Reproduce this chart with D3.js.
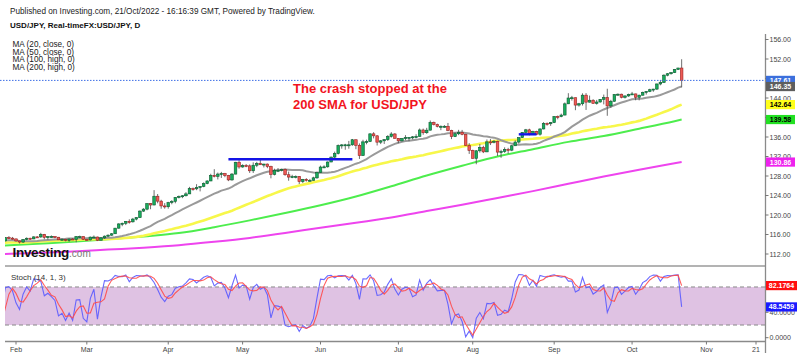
<!DOCTYPE html>
<html><head><meta charset="utf-8">
<script src="https://cdn.jsdelivr.net/npm/d3@7"></script>
<style>body{margin:0;background:#fff;}svg{display:block;font-family:"Liberation Sans",Arial,sans-serif;}</style>
</head><body><svg id="c" width="800" height="357"></svg>
<script>
// ---------------- DATA ----------------
// closes before the OHLC range (Nov 15 – Dec 27, 2021), used only for the moving averages
const earlyCloses = [114.15,114.83,114.10,114.26,113.99,114.85,115.12,115.39,115.36,113.39,113.65,113.15,112.80,113.20,112.80,113.47,113.55,113.70,113.48,113.39,113.57,113.72,114.06,113.70,113.71,113.63,114.08,114.17,114.46,114.39,114.83];
// daily OHLC, weekdays from 2021-12-28 to 2022-10-21
const firstBarDate = "2021-12-28";
const firstVisibleDate = "2022-01-26";
const opens = [
114.83,114.83,114.96,115.07,115.08,115.31,116.12,116.11,115.85,115.56,115.20,115.28,114.60,114.17,114.20,114.60,114.60,114.32,114.10,113.68,113.97,
113.88,114.67,115.35,115.25,
115.10,114.68,114.45,114.98,115.23,115.09,115.51,115.50,116.03,115.42,115.56,115.57,115.44,114.91,115.00,114.75,115.07,115.00,115.56,115.57,
115.00,114.89,115.47,115.48,114.82,115.30,115.66,115.86,116.15,117.30,118.17,118.30,118.70,118.60,119.16,119.45,120.80,121.20,122.34,122.05,123.85,122.84,121.86,
121.70,122.55,122.80,123.60,123.80,123.95,124.33,125.40,125.37,125.62,125.86,126.43,126.98,128.13,127.92,128.40,128.51,128.10,127.20,128.39,130.82,
129.85,130.15,130.08,129.07,130.21,130.57,130.31,130.45,129.93,128.32,129.17,129.18,129.35,128.26,127.78,127.87,127.90,126.85,127.32,127.10,127.12,127.62,
128.70,129.84,129.88,130.87,131.88,132.62,134.27,134.38,134.40,134.40,135.44,134.30,132.20,135.00,135.08,136.65,136.24,134.94,135.22,135.45,136.12,136.62,
135.73,135.21,135.70,135.87,135.93,136.03,136.11,137.44,136.88,137.40,138.97,138.55,138.17,138.20,138.20,137.37,136.08,136.66,136.97,136.55,134.27,
133.24,131.62,133.17,133.88,132.95,135.00,134.95,135.12,132.90,133.02,133.47,133.30,134.20,134.96,135.88,136.95,137.47,136.66,137.14,136.57,137.65,138.80,138.72,
138.96,140.20,140.18,140.50,142.80,144.00,144.06,142.55,142.82,144.58,143.15,143.54,142.90,143.18,143.73,144.09,142.38,143.33,144.72,144.78,144.15,144.42,
144.74,144.84,144.15,144.57,145.17,145.35,145.70,145.83,146.88,147.19,148.68,148.98,149.20,149.868,150.15];
const highs = [
114.95,115.00,115.18,115.20,115.50,116.35,116.22,116.15,116.05,115.85,115.68,115.30,114.72,114.30,114.75,115.05,114.75,114.56,114.20,114.00,114.20,
114.72,115.48,115.67,115.50,
115.15,114.70,115.05,115.40,115.34,115.64,115.68,116.34,116.12,115.69,115.81,115.65,115.50,115.20,115.10,115.18,115.25,115.69,115.77,115.62,
115.10,115.57,115.80,115.57,115.46,115.80,116.03,116.30,117.35,118.30,118.45,118.75,119.12,119.40,119.55,120.95,121.41,122.42,122.44,125.10,124.30,123.12,122.44,
122.70,123.05,123.68,124.00,124.08,124.68,125.77,125.63,126.32,125.86,126.68,127.12,128.46,129.40,128.70,128.84,128.63,128.22,128.60,130.90,131.25,
130.40,130.45,130.37,130.80,130.90,131.35,130.50,130.55,130.11,129.50,129.64,129.50,129.55,128.90,128.25,128.12,128.00,127.40,127.55,127.40,127.85,128.89,
130.13,130.20,130.98,131.97,133.00,134.47,134.55,134.60,135.20,135.59,135.45,134.68,135.43,135.45,136.71,136.99,136.37,135.38,135.55,136.38,137.00,136.80,
135.76,135.80,136.38,136.00,136.20,136.57,137.75,137.72,137.88,139.38,139.16,138.74,138.38,138.45,138.88,137.48,136.96,137.47,137.45,136.58,134.74,
133.40,133.30,134.55,134.20,135.50,135.58,135.40,135.24,133.38,133.88,133.78,134.37,135.32,135.90,137.00,137.66,137.70,137.28,137.28,137.76,139.05,138.98,139.08,
140.25,140.40,140.80,143.08,144.99,144.43,144.08,143.00,144.96,145.00,144.50,143.75,143.61,143.79,144.70,145.90,143.62,144.78,144.94,144.88,144.55,144.89,
145.25,144.89,144.70,145.30,145.44,145.90,145.88,146.95,147.67,148.86,149.10,149.33,149.95,150.20,151.95];
const lows = [
114.60,114.67,114.80,114.96,115.02,115.28,115.73,115.58,115.42,115.05,115.06,114.41,114.00,113.48,114.15,114.32,114.08,113.90,113.60,113.47,113.63,
113.74,114.60,115.05,114.95,
114.56,114.16,114.26,114.80,114.90,115.05,115.35,115.32,115.02,114.95,115.35,115.24,114.86,114.85,114.60,114.50,114.90,114.41,115.27,114.89,
114.70,114.77,115.37,114.65,114.81,115.10,115.46,115.73,116.12,117.20,117.70,117.93,118.23,118.45,118.90,119.40,120.63,120.96,121.18,122.00,122.40,121.29,121.30,
121.30,122.20,122.40,123.40,123.45,123.80,124.30,124.98,125.09,124.84,125.70,126.30,126.95,127.72,127.30,127.60,127.75,126.95,127.03,128.35,129.50,
129.70,129.80,128.63,128.62,129.82,130.25,129.75,129.60,127.52,128.12,128.80,128.95,128.05,127.03,127.55,127.52,126.36,126.55,126.85,126.85,127.03,127.43,
128.65,129.60,129.72,130.85,131.58,132.42,133.60,133.38,133.60,134.20,133.50,131.50,132.10,134.50,134.96,135.72,134.26,134.55,134.57,135.20,135.88,135.70,
134.74,135.10,135.37,135.16,135.52,135.71,136.08,136.46,136.65,137.36,138.37,137.97,137.40,137.91,137.20,135.57,135.99,136.38,136.35,134.20,132.53,
131.60,130.41,132.80,132.70,132.90,134.35,134.70,132.10,131.73,132.75,132.58,133.10,134.15,134.64,135.80,136.80,136.34,136.45,136.40,136.28,137.57,138.33,138.28,
138.85,139.63,140.05,140.45,142.78,143.46,141.50,142.24,142.45,141.55,143.06,142.83,142.65,143.06,142.69,140.35,141.97,143.25,144.45,143.93,143.90,144.25,
144.65,143.53,143.5153,144.52,144.70,145.20,145.27,145.65,146.60,147.07,148.45,148.79,149.12,149.74,146.20];
const closes = [
114.83,114.96,115.07,115.08,115.31,116.12,116.11,115.85,115.56,115.20,115.28,114.60,114.17,114.20,114.60,114.60,114.32,114.10,113.68,113.97,113.88,
114.67,115.35,115.25,115.10,
114.68,114.45,114.98,115.23,115.09,115.51,115.50,116.03,115.42,115.56,115.57,115.44,114.91,115.00,114.75,115.07,115.00,115.56,115.57,115.00,
114.89,115.47,115.48,114.82,115.30,115.66,115.86,116.15,117.30,118.17,118.30,118.70,118.60,119.16,119.45,120.80,121.20,122.34,122.05,123.85,122.84,121.86,121.70,
122.55,122.80,123.60,123.80,123.95,124.33,125.40,125.37,125.62,125.86,126.43,126.98,128.13,127.92,128.40,128.51,128.10,127.20,128.39,130.82,129.85,
130.15,130.08,129.07,130.21,130.57,130.31,130.45,129.93,128.32,129.17,129.18,129.35,128.26,127.78,127.87,127.90,126.85,127.32,127.10,127.12,127.62,128.70,
129.84,129.88,130.87,131.88,132.62,134.27,134.38,134.40,134.40,135.44,134.30,132.20,135.00,135.08,136.65,136.24,134.94,135.22,135.45,136.12,136.62,135.73,
135.21,135.70,135.87,135.93,136.03,136.11,137.44,136.88,137.40,138.97,138.55,138.17,138.20,138.20,137.37,136.08,136.66,136.97,136.55,134.27,133.24,
131.62,133.17,133.88,132.95,135.00,134.95,135.12,132.90,133.02,133.47,133.30,134.20,134.96,135.88,136.95,137.47,136.66,137.14,136.57,137.65,138.80,138.72,138.96,
140.20,140.18,140.50,142.80,144.00,144.06,142.55,142.82,144.58,143.15,143.54,142.90,143.18,143.73,144.09,142.38,143.33,144.72,144.78,144.15,144.42,144.74,
144.84,144.15,144.57,145.17,145.35,145.70,145.83,146.88,147.19,148.68,148.98,149.20,149.86836,150.15,147.61];

// MA(100, high) and MA(200, high), every 10 sessions
const maSampleDates = ["2022-01-26","2022-02-09","2022-02-23","2022-03-09","2022-03-23","2022-04-06","2022-04-20","2022-05-04","2022-05-18","2022-06-01","2022-06-15","2022-06-29","2022-07-13","2022-07-27","2022-08-10","2022-08-24","2022-09-07","2022-09-21","2022-10-05","2022-10-19","2022-10-21"];
const ma100Values = [113.7,114.1,114.5,115.0,115.6,116.3,117.5,118.9,120.4,122.0,123.8,125.9,128.1,130.1,132.0,133.5,135.0,136.2,137.7,139.25,139.58];
const ma200Values = [112.0,112.2,112.5,112.9,113.3,113.8,114.5,115.3,116.3,117.4,118.4,119.5,120.8,122.1,123.5,124.9,126.4,127.9,129.3,130.6,130.86];

// axis ticks
const monthTickDates = ["2022-02-01","2022-03-01","2022-04-01","2022-05-02","2022-06-01","2022-07-01","2022-08-01","2022-09-01","2022-10-03","2022-11-01","2022-11-21"];
const monthTickLabels = ["Feb","Mar","Apr","May","Jun","Jul","Aug","Sep","Oct","Nov","21"];
const priceTicks = [112,116,120,124,128,132,136,140,144,148,152,156];
const stochTicks = [0,40,80];
const stochBand = [20,80];

// drawn horizontal levels (annotation)
const levelStartDates = ["2022-04-26","2022-08-18"];
const levelEndDates = ["2022-06-14","2022-08-25"];
const levelPrices = [131.45,136.55];

const headerLines = ["Published on Investing.com, 21/Oct/2022 - 16:16:39 GMT, Powered by TradingView.","USD/JPY, Real-timeFX:USD/JPY, D"];
const legendLines = ["MA (20, close, 0)","MA (50, close, 0)","MA (100, high, 0)","MA (200, high, 0)"];
const noteLines = ["The crash stopped at the","200 SMA for USD/JPY"];

// ---------------- LAYOUT ----------------
const svg = d3.select("#c");
const L = 5, R = 765;
const parse = d3.utcParse("%Y-%m-%d"), fmt = d3.utcFormat("%Y-%m-%d");
const allDates = d3.utcDay.range(parse(firstBarDate), parse("2022-11-23")).filter(d => d.getUTCDay() !== 0 && d.getUTCDay() !== 6);
const idx = new Map(allDates.map((d, i) => [fmt(d), i]));
const N = closes.length;
const k0 = idx.get(firstVisibleDate);

const x = d3.scaleLinear().domain([idx.get(monthTickDates[0]), idx.get(monthTickDates[monthTickDates.length - 1])]).range([16, 756]);
const y = d3.scaleLinear().domain([112, 156]).range([254, 39.5]);
const ys = d3.scaleLinear().domain([0, 100]).range([337.7, 274.3]);

const defs = svg.append("defs");
defs.append("clipPath").attr("id", "cm").append("rect").attr("x", L).attr("y", 30).attr("width", R - L).attr("height", 235);
defs.append("clipPath").attr("id", "cs").append("rect").attr("x", L).attr("y", 267).attr("width", R - L).attr("height", 74);

// ---------------- INDICATORS ----------------
const fullCloses = earlyCloses.concat(closes);
const off = earlyCloses.length;
const sma = (arr, n, j) => d3.mean(arr.slice(j - n + 1, j + 1));
const ks = d3.range(k0 - 1, N);
const ma20 = ks.map(k => [k, sma(fullCloses, 20, k + off)]);
const ma50 = ks.map(k => [k, sma(fullCloses, 50, k + off)]);
const ma100 = maSampleDates.map((d, i) => [idx.get(d), ma100Values[i]]);
const ma200 = maSampleDates.map((d, i) => [idx.get(d), ma200Values[i]]);

const K = [];
for (let k = 13; k < N; k++) {
  const hh = d3.max(highs.slice(k - 13, k + 1)), ll = d3.min(lows.slice(k - 13, k + 1));
  K[k] = 100 * (closes[k] - ll) / (hh - ll);
}
const D = [];
for (let k = 15; k < N; k++) D[k] = (K[k] + K[k - 1] + K[k - 2]) / 3;

// ---------------- MAIN PANEL ----------------
const main = svg.append("g").attr("clip-path", "url(#cm)");
const line = d3.line().x(d => x(d[0])).y(d => y(d[1]));
const curved = d3.line().x(d => x(d[0])).y(d => y(d[1])).curve(d3.curveMonotoneX);

main.append("path").attr("d", curved(ma200)).attr("fill", "none").attr("stroke", "#ee44ee").attr("stroke-width", 2);
main.append("path").attr("d", curved(ma100)).attr("fill", "none").attr("stroke", "#4ded4d").attr("stroke-width", 2);
main.append("path").attr("d", line(ma50)).attr("fill", "none").attr("stroke", "#f7f74a").attr("stroke-width", 2.6);
main.append("path").attr("d", line(ma20)).attr("fill", "none").attr("stroke", "#9a9a9a").attr("stroke-width", 2);

const bars = d3.range(k0 - 1, N);
const cg = main.append("g");
cg.selectAll("line.w").data(bars).join("line")
  .attr("x1", k => x(k)).attr("x2", k => x(k))
  .attr("y1", k => y(highs[k])).attr("y2", k => y(lows[k]))
  .attr("stroke", "#4a4a4a").attr("stroke-width", 0.8);
cg.selectAll("rect.b").data(bars).join("rect")
  .attr("x", k => x(k) - 1.3).attr("width", 2.6)
  .attr("y", k => y(Math.max(opens[k], closes[k])))
  .attr("height", k => Math.max(1, Math.abs(y(opens[k]) - y(closes[k]))))
  .attr("fill", k => closes[k] >= opens[k] ? "#17ad5c" : "#ee5b55")
  .attr("stroke", k => closes[k] >= opens[k] ? "#0c5a30" : "#9a2020")
  .attr("stroke-width", 0.6);

// annotation levels
levelPrices.forEach((p, i) => {
  main.append("line").attr("x1", x(idx.get(levelStartDates[i]))).attr("x2", x(idx.get(levelEndDates[i])))
    .attr("y1", y(p)).attr("y2", y(p)).attr("stroke", "#1414e6").attr("stroke-width", 2.4);
});

// last price dotted line
const lastClose = closes[N - 1];
svg.append("line").attr("x1", 0).attr("x2", R).attr("y1", y(lastClose)).attr("y2", y(lastClose))
  .attr("stroke", "#3e6fe6").attr("stroke-width", 1).attr("stroke-dasharray", "1.5,1.5");

// ---------------- STOCH PANEL ----------------
const st = svg.append("g").attr("clip-path", "url(#cs)");
st.append("rect").attr("x", L).attr("width", R - L).attr("y", ys(stochBand[1])).attr("height", ys(stochBand[0]) - ys(stochBand[1])).attr("fill", "#dfc2e3");
stochBand.forEach(v => st.append("line").attr("x1", L).attr("x2", R).attr("y1", ys(v)).attr("y2", ys(v))
  .attr("stroke", "#8a8a8a").attr("stroke-width", 1).attr("stroke-dasharray", "4,3"));
const sline = d3.line().x(k => x(k)).y(k => ys(K[k]));
const dline = d3.line().x(k => x(k)).y(k => ys(D[k]));
st.append("path").attr("d", sline(bars)).attr("fill", "none").attr("stroke", "#5a5aff").attr("stroke-width", 1.1).attr("opacity", 0.9);
st.append("path").attr("d", dline(bars)).attr("fill", "none").attr("stroke", "#ff4a4a").attr("stroke-width", 1.1).attr("opacity", 0.9);

// ---------------- FRAME / AXES ----------------
svg.append("line").attr("x1", L).attr("x2", R).attr("y1", 266).attr("y2", 266).attr("stroke", "#9a9a9a").attr("stroke-width", 1.5);
svg.append("line").attr("x1", L).attr("x2", R).attr("y1", 341.5).attr("y2", 341.5).attr("stroke", "#8a8a8a").attr("stroke-width", 1.5);
svg.append("line").attr("x1", R + 0.5).attr("x2", R + 0.5).attr("y1", 34).attr("y2", 353).attr("stroke", "#8a8a8a").attr("stroke-width", 1.3);

// value labels on the price axis
const lastOf = a => a[a.length - 1][1];
const priceLabels = [
  [lastClose, "#3b6fdc", "#fff"],
  [lastOf(ma20), "#5e5e5e", "#fff"],
  [lastOf(ma50), "#ffff1a", "#000"],
  [lastOf(ma100), "#22e022", "#000"],
  [lastOf(ma200), "#ee22ee", "#fff"]
];
const stochLabels = [[D[N - 1], "#ff1010"], [K[N - 1], "#1a1aff"]];
const covered = (py, list) => list.some(l => Math.abs(l - py) < 5);

const axG = svg.append("g").attr("font-size", 7).attr("fill", "#444");
priceTicks.forEach(v => {
  if (y(v) < 34 || y(v) > 262) return;
  axG.append("line").attr("x1", R).attr("x2", R + 3.5).attr("y1", y(v)).attr("y2", y(v)).attr("stroke", "#777");
  if (!covered(y(v), priceLabels.map(p => y(p[0]))))
    axG.append("text").attr("x", 769.5).attr("y", y(v) + 2.5).text(v.toFixed(2));
});
stochTicks.forEach(v => {
  axG.append("line").attr("x1", R).attr("x2", R + 3.5).attr("y1", ys(v)).attr("y2", ys(v)).attr("stroke", "#777");
  if (!covered(ys(v), stochLabels.map(p => ys(p[0]))))
    axG.append("text").attr("x", 769.5).attr("y", ys(v) + 2.5).text(v.toFixed(4));
});
monthTickDates.forEach((d, i) => {
  const xx = x(idx.get(d));
  axG.append("line").attr("x1", xx).attr("x2", xx).attr("y1", 341.5).attr("y2", 344.5).attr("stroke", "#777");
  axG.append("text").attr("x", xx).attr("y", 351.5).attr("text-anchor", "middle").text(monthTickLabels[i]);
});

priceLabels.forEach(([v, bg, fg]) => {
  axG.append("rect").attr("x", R + 1).attr("y", y(v) - 4.6).attr("width", 29).attr("height", 9.2).attr("fill", bg);
  axG.append("text").attr("x", R + 15.5).attr("y", y(v) + 2.5).attr("text-anchor", "middle").attr("fill", fg).attr("font-weight", "bold").text(v.toFixed(2));
});
stochLabels.forEach(([v, bg]) => {
  axG.append("rect").attr("x", R + 1).attr("y", ys(v) - 4.6).attr("width", 31).attr("height", 9.2).attr("fill", bg);
  axG.append("text").attr("x", R + 16.5).attr("y", ys(v) + 2.5).attr("text-anchor", "middle").attr("fill", "#fff").attr("font-weight", "bold").text(v.toFixed(4));
});

// ---------------- TEXTS ----------------
svg.append("text").attr("x", 10).attr("y", 14).attr("font-size", 8.2).attr("fill", "#222").text(headerLines[0]);
svg.append("text").attr("x", 10).attr("y", 28).attr("font-size", 8).attr("font-weight", "bold").attr("fill", "#111").text(headerLines[1]);
legendLines.forEach((t, i) => svg.append("text").attr("x", 12.5).attr("y", 47 + i * 7.5).attr("font-size", 8.2).attr("fill", "#222").text(t));
noteLines.forEach((t, i) => svg.append("text").attr("x", 293).attr("y", 93 + i * 15.5).attr("font-size", 13).attr("font-weight", "bold").attr("fill", "#f2141e").text(t));
const logo = svg.append("text").attr("x", 12.5).attr("y", 256.5);
logo.append("tspan").attr("font-size", 13.5).attr("font-weight", "bold").attr("fill", "#111").attr("letter-spacing", -0.3).text("Investing");
logo.append("tspan").attr("font-size", 10).attr("fill", "#777").text(".com");
svg.append("text").attr("x", 11).attr("y", 279.5).attr("font-size", 8).attr("fill", "#333").text("Stoch (14, 1, 3)");
</script></body></html>
